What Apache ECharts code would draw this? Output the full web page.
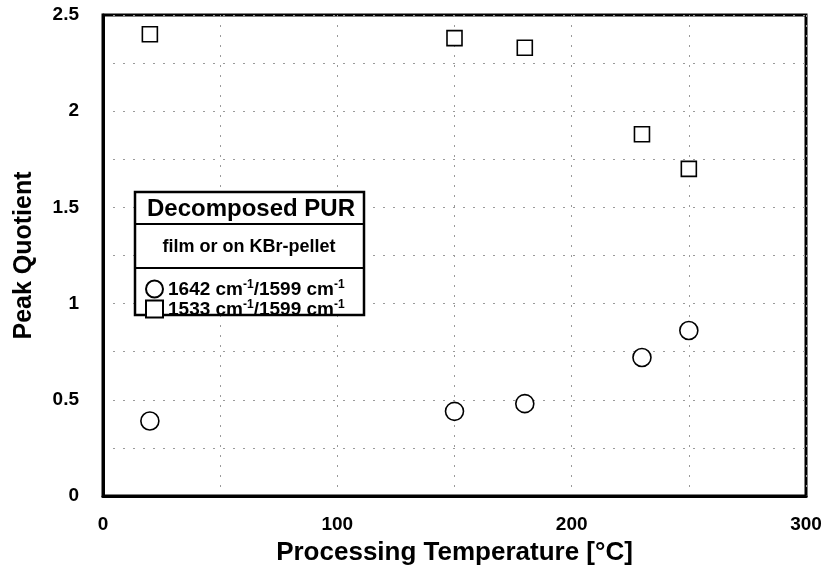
<!DOCTYPE html>
<html>
<head>
<meta charset="utf-8">
<script src="https://cdn.jsdelivr.net/npm/echarts@6/dist/echarts.min.js"></script>
<style>
  html, body { margin: 0; padding: 0; background: #fff; }
  #chart { width: 827px; height: 573px; }
</style>
</head>
<body>
<div id="chart"></div>
<script>
// processing temperature [°C]
var temps = [20, 150, 180, 230, 250];
// peak quotient 1642/1599 (circles)
var ratio1642 = [0.39, 0.44, 0.48, 0.72, 0.86];
// peak quotient 1533/1599 (squares)
var ratio1533 = [2.40, 2.38, 2.33, 1.88, 1.70];

var seriesNames = ['1642', '1533'];
var legendTitle = 'Decomposed PUR';
var legendSub = 'film or on KBr-pellet';

var font = 'Liberation Sans, Arial, Helvetica, sans-serif';

function pairs(xs, ys) {
  return xs.map(function (x, i) { return [x, ys[i]]; });
}

var chart = echarts.init(document.getElementById('chart'), null, { renderer: 'canvas' });

var dotted = { color: '#9a9a9a', width: 1, type: [2, 8] };

var option = {
  backgroundColor: '#fff',
  animation: false,
  grid: {
    left: 103, right: 21, top: 15, bottom: 77,
    show: true, borderColor: '#000', borderWidth: 3, backgroundColor: 'transparent'
  },
  xAxis: {
    type: 'value', min: 0, max: 300, interval: 100,
    name: 'Processing Temperature [°C]',
    nameLocation: 'middle', nameGap: 44,
    nameTextStyle: { fontFamily: font, fontWeight: 'bold', fontSize: 26, color: '#000' },
    axisLine: { show: true, lineStyle: { color: '#000', width: 3 } },
    axisTick: { show: false },
    axisLabel: { margin: 19, fontFamily: font, fontWeight: 'bold', fontSize: 19, color: '#000' },
    splitLine: { show: true, lineStyle: dotted },
    minorTick: { show: false, splitNumber: 2 },
    minorSplitLine: { show: true, lineStyle: dotted }
  },
  yAxis: {
    type: 'value', min: 0, max: 2.5, interval: 0.5,
    name: 'Peak Quotient',
    nameLocation: 'middle', nameGap: 66,
    nameTextStyle: { fontFamily: font, fontWeight: 'bold', fontSize: 25, color: '#000' },
    axisLine: { show: true, lineStyle: { color: '#000', width: 3 } },
    axisTick: { show: false },
    axisLabel: { margin: 24, fontFamily: font, fontWeight: 'bold', fontSize: 19, color: '#000' },
    splitLine: { show: true, lineStyle: dotted },
    minorTick: { show: false, splitNumber: 2 },
    minorSplitLine: { show: true, lineStyle: dotted }
  },
  graphic: [
    { type: 'rect', z: 5, shape: { x: 135, y: 192, width: 229, height: 123 },
      style: { fill: '#fff', stroke: '#000', lineWidth: 2.5 } },
    { type: 'line', z: 6, shape: { x1: 135, y1: 224, x2: 364, y2: 224 },
      style: { stroke: '#000', lineWidth: 2 } },
    { type: 'line', z: 6, shape: { x1: 135, y1: 268, x2: 364, y2: 268 },
      style: { stroke: '#000', lineWidth: 2 } },
    { type: 'text', z: 6, x: 251, y: 209,
      style: { text: legendTitle, fontFamily: font, fontWeight: 'bold', fontSize: 24,
               fill: '#000', textAlign: 'center', textVerticalAlign: 'middle' } },
    { type: 'text', z: 6, x: 249, y: 247,
      style: { text: legendSub, fontFamily: font, fontWeight: 'bold', fontSize: 18,
               fill: '#000', textAlign: 'center', textVerticalAlign: 'middle' } }
  ],
  legend: {
    z: 10,
    orient: 'vertical', left: 140, top: 274,
    itemWidth: 17, itemHeight: 17, itemGap: 0,
    data: seriesNames,
    formatter: function (name) {
      return '{t|' + name + ' cm}{s|-1}{t|/1599 cm}{s|-1}';
    },
    textStyle: {
      fontFamily: font, fontWeight: 'bold', color: '#000',
      rich: {
        t: { fontFamily: font, fontWeight: 'bold', fontSize: 19, color: '#000', lineHeight: 20, verticalAlign: 'bottom' },
        s: { fontFamily: font, fontWeight: 'bold', fontSize: 12, color: '#000', lineHeight: 20, verticalAlign: 'top' }
      }
    }
  },
  series: [
    {
      name: seriesNames[0], type: 'scatter', symbol: 'circle', symbolSize: 18,
      itemStyle: { color: '#fff', borderColor: '#000', borderWidth: 1.6, opacity: 1 },
      data: pairs(temps, ratio1642), z: 3
    },
    {
      name: seriesNames[1], type: 'scatter', symbol: 'rect', symbolSize: 15,
      itemStyle: { color: '#fff', borderColor: '#000', borderWidth: 1.6, opacity: 1 },
      data: pairs(temps, ratio1533), z: 3
    }
  ]
};

chart.setOption(option);
</script>
</body>
</html>
